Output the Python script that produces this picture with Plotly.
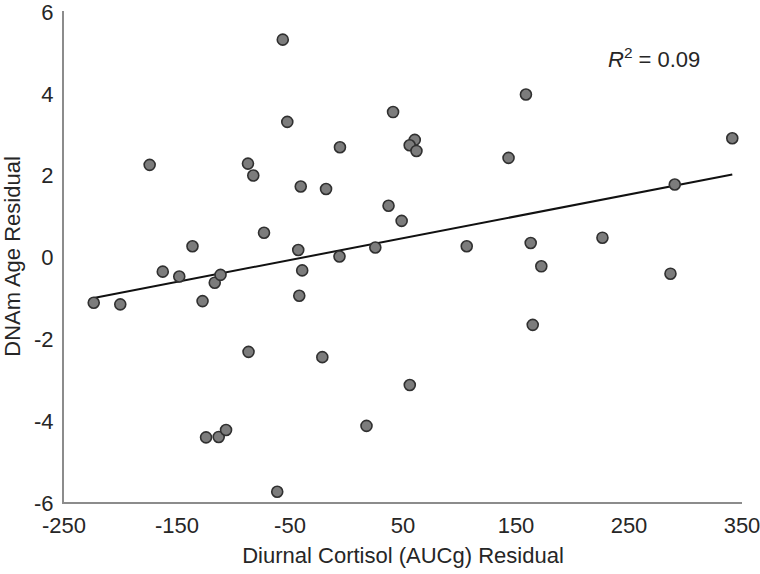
import numpy as np
import plotly.graph_objects as go

cortisol_residual = [
    -223.7, -200.2, -174.2, -162.6, -148.0, -136.3, -127.4, -116.6, -111.5, -87.2,
    -82.5, -73.0, -56.4, -52.4, -40.5, -18.1, -42.7, -39.2, -6.2, -5.8,
    25.5, -41.8, -86.7, -21.4, -124.3, -113.1, -106.6, -61.3, 17.7, 37.2,
    48.8, 41.2, 60.4, 55.9, 61.9, 143.4, 158.8, 341.4, 290.5, 106.4,
    163.0, 226.5, 172.4, 286.7, 164.8, 56.0,
]
dnam_age_residual = [
    -1.13, -1.17, 2.24, -0.37, -0.49, 0.25, -1.09, -0.64, -0.45, 2.27,
    1.98, 0.58, 5.30, 3.29, 1.71, 1.65, 0.16, -0.34, 0.00, 2.67,
    0.22, -0.96, -2.33, -2.46, -4.42, -4.41, -4.24, -5.75, -4.14, 1.24,
    0.87, 3.53, 2.85, 2.72, 2.58, 2.41, 3.96, 2.89, 1.76, 0.25,
    0.33, 0.46, -0.24, -0.42, -1.67, -3.14,
]
x_ticks = [-250, -150, -50, 50, 150, 250, 350]
y_ticks = [-6, -4, -2, 0, 2, 4, 6]
r2_label = "<i>R</i><sup>2</sup> = 0.09"

x = np.array(cortisol_residual)
y = np.array(dnam_age_residual)
slope, intercept = np.polyfit(x, y, 1)
fit_x = np.array([x.min(), x.max()])
fit_y = slope * fit_x + intercept

FONT = "Liberation Sans, Arial, sans-serif"
TXT = "#262626"
FS = 22

fig = go.Figure()
fig.add_trace(go.Scatter(
    x=fit_x, y=fit_y, mode="lines",
    line=dict(color="#111111", width=2),
    showlegend=False, hoverinfo="skip",
))
fig.add_trace(go.Scatter(
    x=x, y=y, mode="markers",
    marker=dict(size=11, color="#7c7c7c", line=dict(color="#303030", width=1.6)),
    showlegend=False,
))

fig.add_annotation(
    x=230, y=4.85, xref="x", yref="y", text=r2_label, showarrow=False,
    xanchor="left", yanchor="middle",
    font=dict(family=FONT, size=FS, color=TXT),
)

fig.update_layout(
    width=760, height=574,
    margin=dict(l=64, r=18, t=11, b=72),
    paper_bgcolor="white", plot_bgcolor="white",
    font=dict(family=FONT, size=FS, color=TXT),
)
fig.update_xaxes(
    range=[-250, 350], tickvals=x_ticks, ticktext=[str(v) for v in x_ticks],
    showgrid=False, zeroline=False, showline=True, linecolor="#8c8c8c", linewidth=2,
    ticks="", ticklabelstandoff=3, ticklabeloverflow="allow", automargin=False,
    title=dict(text="Diurnal Cortisol (AUCg) Residual", font=dict(size=FS, color=TXT), standoff=10),
)
fig.update_yaxes(
    range=[-6, 6], tickvals=y_ticks, ticktext=[str(v) for v in y_ticks],
    showgrid=False, zeroline=False, showline=True, linecolor="#8c8c8c", linewidth=2,
    ticks="", ticklabelstandoff=4, ticklabelshift=1, ticklabeloverflow="allow", automargin=False,
    title=dict(text="DNAm Age Residual", font=dict(size=FS, color=TXT), standoff=8),
)

fig.write_html(
    "out.html",
    config={"displayModeBar": False},
    post_script="document.body.style.margin='0';document.body.style.overflow='hidden';",
)
